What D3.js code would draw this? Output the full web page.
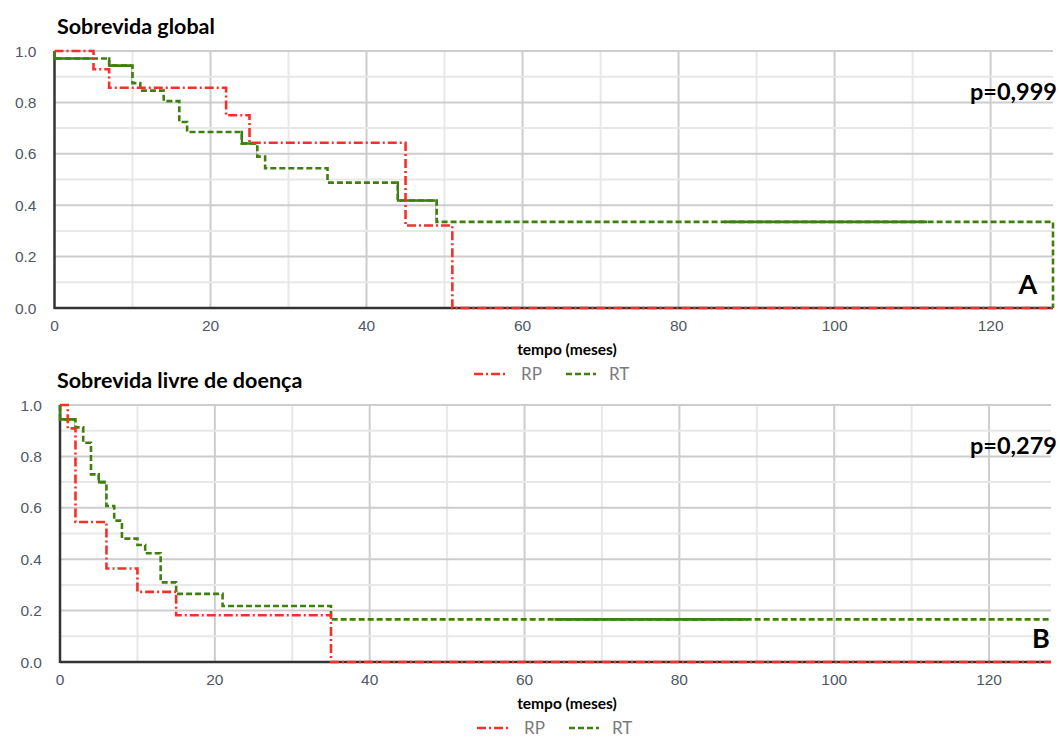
<!DOCTYPE html>
<html>
<head>
  <meta charset="utf-8">
  <title>Sobrevida</title>
  <script src="https://cdn.jsdelivr.net/npm/d3@7/dist/d3.min.js"></script>
  <style>
    body { margin: 0; background: #fff; }
    .tick-lbl { font-family: "Liberation Sans", Arial, sans-serif; font-size: 15.5px; fill: #4f5866; }
    .bold { font-family: Lato, "Open Sans", sans-serif; font-weight: bold; fill: #000; }
    .leg { font-family: Lato, sans-serif; font-size: 17px; fill: #7a7a7a; }
  </style>
</head>
<body>
  <svg width="1060" height="737" id="mainsvg"></svg>
  <script>
    const svg = d3.select('#mainsvg');

    // x ticks (meses) and y ticks (sobrevida)
    const xMajorTicks = [0, 20, 40, 60, 80, 100, 120];
    const xGridTicks = [10, 20, 30, 40, 50, 60, 70, 80, 90, 100, 110, 120];
    const yMajorTicks = [0, 0.2, 0.4, 0.6, 0.8, 1.0];
    const yGridTicks = [0.1, 0.2, 0.3, 0.4, 0.5, 0.6, 0.7, 0.8, 0.9, 1.0];

    // Sobrevida global (A)
    const globalRPTime = [0, 5, 7, 22, 25, 45, 51, 128];
    const globalRPSurv = [1.0, 0.929, 0.857, 0.75, 0.643, 0.321, 0, 0];
    const globalRTTime = [0, 0, 7, 10, 11, 14, 16, 17, 24, 26, 27, 35, 44, 49, 128, 128];
    const globalRTSurv = [1.0, 0.971, 0.943, 0.875, 0.846, 0.805, 0.724, 0.685, 0.64, 0.589, 0.544, 0.488, 0.418, 0.335, 0.335, 0];

    // Sobrevida livre de doença (B)
    const dfsRPTime = [0, 1, 2, 6, 10, 15, 35, 128];
    const dfsRPSurv = [1.0, 0.909, 0.545, 0.364, 0.273, 0.182, 0, 0];
    const dfsRTTime = [0, 0, 2, 3, 4, 5, 6, 7, 8, 10, 11, 13, 15, 21, 35, 128];
    const dfsRTSurv = [1.0, 0.944, 0.913, 0.853, 0.73, 0.70, 0.607, 0.55, 0.48, 0.455, 0.423, 0.31, 0.265, 0.218, 0.166, 0.166];

    // time ranges where the RT dashed line shows up solid in the original
    const rtSolidGlobal = [[0, 5], [7, 10], [24, 26], [44, 49], [86, 112]];
    const rtSolidDfs = [[0, 2], [5, 6], [64, 89]];

    const seriesNames = ['RP', 'RT'];
    const red = '#f5302a';
    const green = '#3f7f10';
    const redDash = '9,3,2,3';
    const greenDash = '6,3';

    const zip = (t, s) => t.map((d, i) => ({ t: d, s: s[i] }));

    let clipId = 0;

    const drawPanel = function (p) {
      const g = svg.append('g');
      const x = d3.scaleLinear().domain([0, 128]).range([p.left, p.right]);
      const y = d3.scaleLinear().domain([0, 1]).range([p.bottom, p.top]);

      // grid
      g.selectAll('.vgrid').data(xGridTicks).enter().append('line')
        .attr('x1', d => x(d)).attr('x2', d => x(d))
        .attr('y1', y(1)).attr('y2', y(0))
        .attr('stroke', d => d % 20 === 0 ? '#cdcdcd' : '#e8e8e8')
        .attr('stroke-width', 2);
      g.selectAll('.hgrid').data(yGridTicks).enter().append('line')
        .attr('x1', x(0)).attr('x2', x(128))
        .attr('y1', d => y(d)).attr('y2', d => y(d))
        .attr('stroke', d => Math.round(d * 10) % 2 === 0 ? '#cdcdcd' : '#e8e8e8')
        .attr('stroke-width', 2);

      // axes
      g.append('line').attr('x1', x(0)).attr('x2', x(0)).attr('y1', y(1)).attr('y2', y(0) + 1)
        .attr('stroke', '#333').attr('stroke-width', 2.5);
      g.append('line').attr('x1', x(0)).attr('x2', x(128)).attr('y1', y(0)).attr('y2', y(0))
        .attr('stroke', '#333').attr('stroke-width', 2.5);

      g.selectAll('.ylbl').data(yMajorTicks).enter().append('text')
        .attr('class', 'tick-lbl')
        .attr('x', x(0) - 18).attr('y', d => y(d) + 5.5)
        .attr('text-anchor', 'end')
        .text(d3.format('.1f'));
      g.selectAll('.xlbl').data(xMajorTicks).enter().append('text')
        .attr('class', 'tick-lbl')
        .attr('x', d => x(d)).attr('y', y(0) + 22.5)
        .attr('text-anchor', 'middle')
        .text(d => d);

      const line = d3.line().x(d => x(d.t)).y(d => y(d.s)).curve(d3.curveStepAfter);

      // RT
      const rt = zip(p.rtTime, p.rtSurv);
      g.append('path').attr('d', line(rt)).attr('fill', 'none')
        .attr('stroke', green).attr('stroke-width', 2.6).attr('stroke-dasharray', greenDash);
      p.rtSolid.forEach(r => {
        const id = 'clip' + (clipId++);
        svg.append('clipPath').attr('id', id).append('rect')
          .attr('x', x(r[0]) - 1).attr('width', x(r[1]) - x(r[0]))
          .attr('y', p.top - 5).attr('height', p.bottom - p.top + 10);
        g.append('path').attr('d', line(rt)).attr('fill', 'none')
          .attr('clip-path', `url(#${id})`)
          .attr('stroke', green).attr('stroke-width', 2.6);
      });

      // RP
      g.append('path').attr('d', line(zip(p.rpTime, p.rpSurv))).attr('fill', 'none')
        .attr('stroke', red).attr('stroke-width', 2.6).attr('stroke-dasharray', redDash);

      // texts
      g.append('text').attr('class', 'bold').attr('font-size', 21.5)
        .attr('x', 57).attr('y', p.top - 17).text(p.title);
      g.append('text').attr('class', 'bold').attr('font-size', 23.5)
        .attr('x', 1057).attr('y', p.top + 49).attr('text-anchor', 'end').text(p.pval);
      g.append('text').attr('class', 'bold').attr('font-size', 27)
        .attr('x', p.letterX).attr('y', y(0) - 14).attr('text-anchor', 'middle').text(p.letter);
      g.append('text').attr('class', 'bold').attr('font-size', 15.5)
        .attr('x', 567).attr('y', y(0) + 47).attr('text-anchor', 'middle').text('tempo (meses)');

      // legend
      const ly = y(0) + 66;
      const legend = [
        { name: seriesNames[0], color: red, dash: redDash, x0: p.legX, x1: p.legX + 34 },
        { name: seriesNames[1], color: green, dash: greenDash, x0: p.legX + 92, x1: p.legX + 122 }
      ];
      legend.forEach(l => {
        g.append('line').attr('x1', l.x0).attr('x2', l.x1).attr('y1', ly).attr('y2', ly)
          .attr('stroke', l.color).attr('stroke-width', 2.6).attr('stroke-dasharray', l.dash);
        g.append('text').attr('class', 'leg').attr('x', l.x1 + 13).attr('y', ly + 6).text(l.name);
      });
    };

    drawPanel({
      title: 'Sobrevida global', pval: 'p=0,999', letter: 'A', letterX: 1028,
      left: 54.5, right: 1053, top: 51, bottom: 308, legX: 474,
      rpTime: globalRPTime, rpSurv: globalRPSurv,
      rtTime: globalRTTime, rtSurv: globalRTSurv, rtSolid: rtSolidGlobal
    });
    drawPanel({
      title: 'Sobrevida livre de doença', pval: 'p=0,279', letter: 'B', letterX: 1041,
      left: 60, right: 1051, top: 405, bottom: 662, legX: 477,
      rpTime: dfsRPTime, rpSurv: dfsRPSurv,
      rtTime: dfsRTTime, rtSurv: dfsRTSurv, rtSolid: rtSolidDfs
    });
  </script>
</body>
</html>
